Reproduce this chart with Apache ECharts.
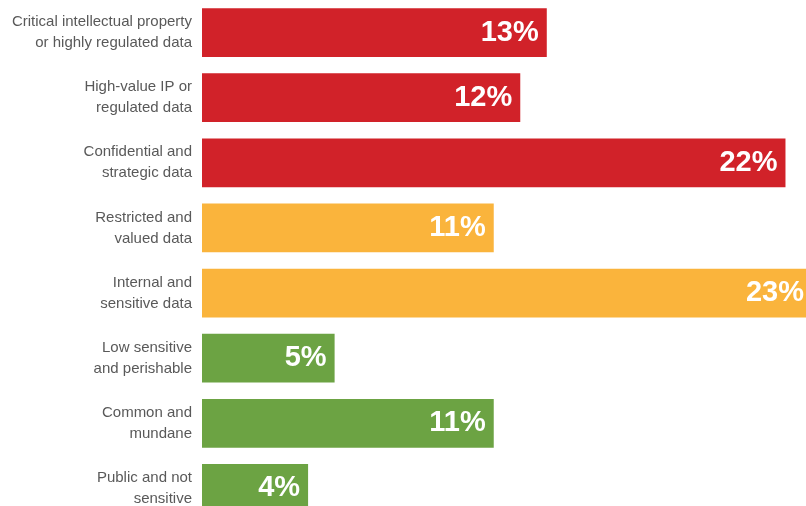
<!DOCTYPE html>
<html>
<head>
<meta charset="utf-8">
<style>
  html, body { margin: 0; padding: 0; background: #fff; }
  #chart { width: 806px; height: 506px; }
</style>
<script src="https://cdn.jsdelivr.net/npm/echarts@6/dist/echarts.min.js"></script>
</head>
<body>
<div id="chart"></div>
<script>
const categories = [
  'Critical intellectual property\nor highly regulated data',
  'High-value IP or\nregulated data',
  'Confidential and\nstrategic data',
  'Restricted and\nvalued data',
  'Internal and\nsensitive data',
  'Low sensitive\nand perishable',
  'Common and\nmundane',
  'Public and not\nsensitive'
];
const values = [13, 12, 22, 11, 23, 5, 11, 4];
const barColors = ['#d12229', '#d12229', '#d12229', '#fab43c', '#fab43c', '#6ca343', '#6ca343', '#6ca343'];

const chart = echarts.init(document.getElementById('chart'));

chart.setOption({
  animation: false,
  grid: { left: 202, right: -6, top: 0, bottom: -15, outerBoundsMode: 'none', containLabel: false },
  xAxis: {
    type: 'value',
    min: 0,
    max: 23,
    show: false
  },
  yAxis: {
    type: 'category',
    inverse: true,
    data: categories,
    axisLine: { show: false },
    axisTick: { show: false },
    axisLabel: {
      margin: 10,
      color: '#595959',
      fontFamily: '"Liberation Sans", Arial, sans-serif',
      fontSize: 15,
      lineHeight: 21,
      align: 'right',
      padding: [3, 0, 0, 0]
    }
  },
  series: [{
    type: 'bar',
    barCategoryGap: '25.2%',
    data: values.map((v, i) => ({ value: v, itemStyle: { color: barColors[i] } })),
    label: {
      show: true,
      position: 'insideRight',
      distance: 8,
      formatter: '{c}%',
      color: '#fff',
      fontFamily: '"Liberation Sans", Arial, sans-serif',
      fontWeight: 'bold',
      fontSize: 29
    }
  }]
});
</script>
</body>
</html>
